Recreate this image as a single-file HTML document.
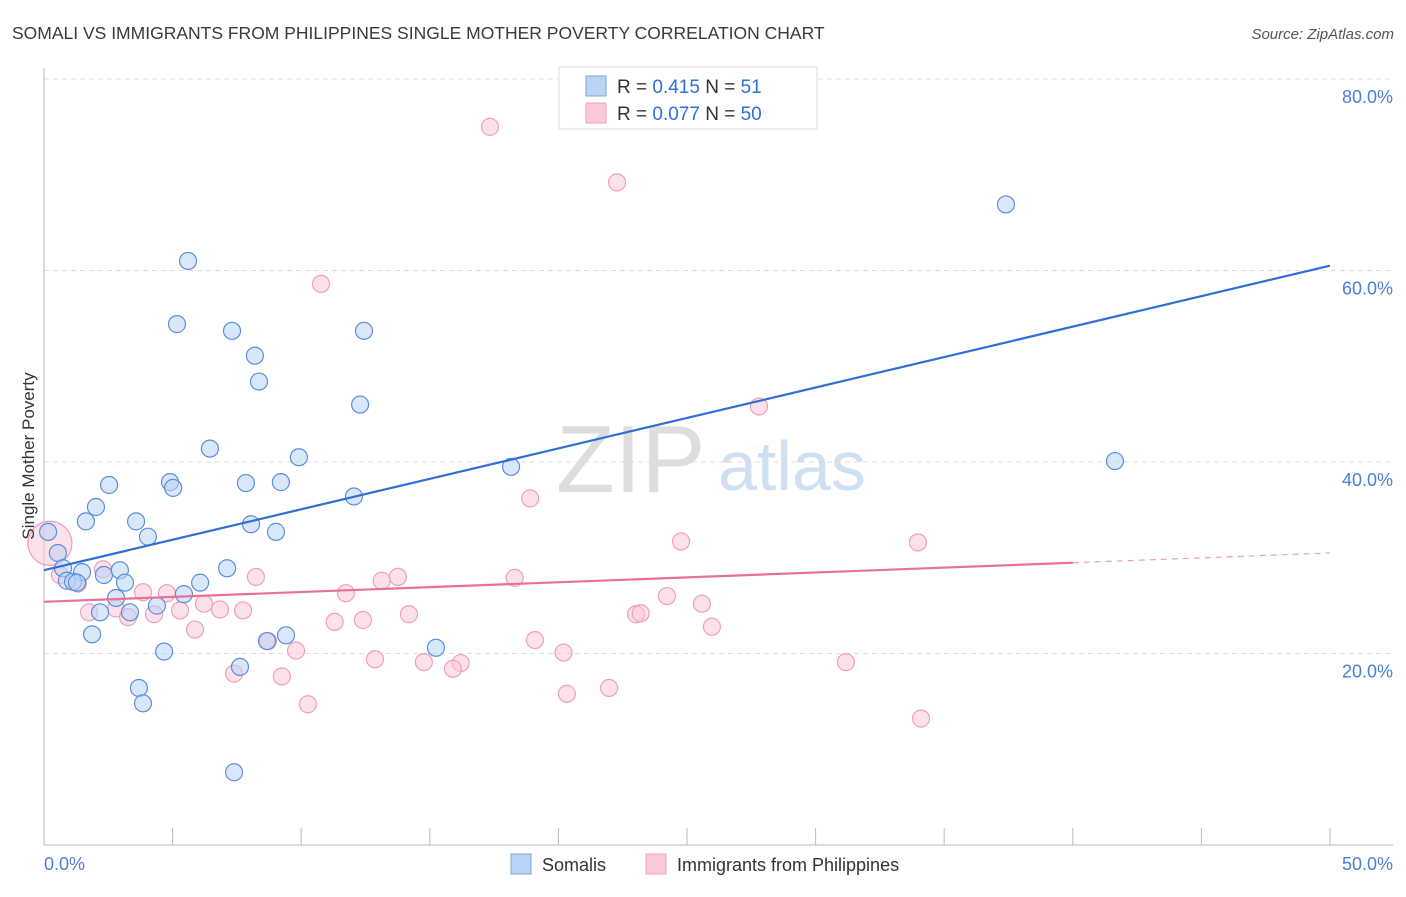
<!DOCTYPE html>
<html><head><meta charset="utf-8"><style>
body{margin:0;background:#fff;font-family:"Liberation Sans",sans-serif}
svg text{font-family:"Liberation Sans",sans-serif}
</style></head><body>
<svg width="1406" height="892" xmlns="http://www.w3.org/2000/svg">
<text x="12" y="39" font-size="17.5" fill="#3a3a3a">SOMALI VS IMMIGRANTS FROM PHILIPPINES SINGLE MOTHER POVERTY CORRELATION CHART</text>
<text x="1394" y="39" font-size="15" fill="#555" font-style="italic" text-anchor="end">Source: ZipAtlas.com</text>
<text x="556" y="492" font-size="96" fill="#ddd" font-family="Liberation Serif">ZIP</text>
<text x="718" y="490" font-size="70" fill="#cfe0f3">atlas</text>
<g id="grid"></g>
<g id="axes"></g>
<g id="pts"></g>
<g id="lines"></g>
<text transform="translate(34,456) rotate(-90)" font-size="17" fill="#333" text-anchor="middle">Single Mother Poverty</text>
<text x="44" y="870" font-size="18" fill="#4a7fd4">0.0%</text>
<text x="1393" y="870" font-size="18" fill="#4a7fd4" text-anchor="end">50.0%</text>
<g>
<rect x="559" y="67" width="258" height="62" fill="#fff" stroke="#ddd"/>
<rect x="586" y="76" width="20" height="20" fill="#b9d4f5" stroke="#7aa6e0"/>
<rect x="586" y="103" width="20" height="20" fill="#fbc9d9" stroke="#eea0ba"/>
<text x="617" y="93" font-size="19" fill="#333">R = <tspan fill="#2f6fd6">0.415</tspan>   N = <tspan fill="#2f6fd6"> 51</tspan></text>
<text x="617" y="120" font-size="19" fill="#333">R = <tspan fill="#2f6fd6">0.077</tspan>   N = <tspan fill="#2f6fd6">50</tspan></text>
</g>
<g>
<rect x="511" y="854" width="20" height="20" fill="#b9d4f5" stroke="#7aa6e0"/>
<text x="542" y="871" font-size="18" fill="#333">Somalis</text>
<rect x="646" y="854" width="20" height="20" fill="#fbc9d9" stroke="#eea0ba"/>
<text x="677" y="871" font-size="18" fill="#333">Immigrants from Philippines</text>
</g>
</svg>
<script>
const yTicks=[20,40,60,80];
const xTicks=[0,5,10,15,20,25,30,35,40,45,50];
const blueX=[5.6,5.17,7.31,12.44,8.2,8.36,12.29,6.45,9.91,18.16,37.4,41.64,2.53,4.9,5.02,7.85,9.21,12.05,2.02,1.63,3.58,8.05,9.02,4.04,0.16,0.54,0.74,1.48,2.33,2.95,0.89,1.13,1.28,3.15,6.07,7.12,2.8,5.44,4.39,2.18,3.34,1.87,8.67,9.41,4.67,15.24,7.62,3.69,3.85,7.39];
const blueY=[61.0,54.4,53.7,53.7,51.1,48.4,46.0,41.4,40.5,39.5,66.9,40.1,37.6,37.9,37.3,37.8,37.9,36.4,35.3,33.8,33.8,33.5,32.7,32.2,32.7,30.5,28.9,28.5,28.2,28.7,27.6,27.5,27.4,27.4,27.4,28.9,25.8,26.2,25.0,24.3,24.3,22.0,21.3,21.9,20.2,20.6,18.6,16.4,14.8,7.6];
const pinkX=[17.34,22.28,10.77,27.8,18.9,24.77,33.98,0.23,0.62,2.29,1.32,8.24,13.76,13.13,18.3,11.74,3.85,4.78,24.22,25.58,1.75,2.8,3.27,4.28,5.29,6.22,6.84,7.74,14.19,11.3,12.4,23.02,23.2,25.97,5.87,8.71,19.09,9.8,20.2,12.87,14.77,16.2,15.9,31.18,7.39,9.25,20.33,21.97,10.26,34.1];
const pinkY=[75.0,69.2,58.6,45.8,36.2,31.7,31.6,31.5,28.2,28.8,27.3,28.0,28.0,27.6,27.9,26.3,26.4,26.3,26.0,25.2,24.3,24.7,23.8,24.1,24.5,25.2,24.6,24.5,24.1,23.3,23.5,24.1,24.2,22.8,22.5,21.3,21.4,20.3,20.1,19.4,19.1,19.0,18.4,19.1,17.9,17.6,15.8,16.4,14.7,13.2];
const blueTrend=[28.7,60.5];
const pinkTrend=[25.4,30.5];
const NS="http://www.w3.org/2000/svg";
const sx=v=>44+v*25.72, sy=v=>845-v*9.575;
function mk(tag,attrs,parent){const e=document.createElementNS(NS,tag);for(const k in attrs)e.setAttribute(k,attrs[k]);document.getElementById(parent).appendChild(e);return e;}
yTicks.forEach(t=>{
 const l=mk('line',{x1:44,x2:1393,y1:sy(t),y2:sy(t),stroke:'#ddd','stroke-dasharray':'5,4'},'grid');
 
 
 const tx=mk('text',{x:1393,y:sy(t)+24,'font-size':18,fill:'#4a7fd4','text-anchor':'end'},'grid');
 tx.textContent=t.toFixed(1)+'%';
 
 
});
mk('line',{x1:44,x2:44,y1:68,y2:845,stroke:'#bbb'},'axes');
mk('line',{x1:44,x2:1393,y1:845,y2:845,stroke:'#bbb'},'axes');
xTicks.forEach(t=>{
 const l=mk('line',{x1:sx(t),x2:sx(t),y1:828,y2:845,stroke:'#bbb'},'axes');
 
 
});
function dots(X,Y,fill,stroke,name){X.forEach((x,i)=>{
 const c=mk('circle',{cx:sx(x),cy:sy(Y[i]),r:(name==='pink-point'&&i===7)?22:8.5,fill:fill,'fill-opacity':0.55,stroke:stroke,'stroke-width':1.2},'pts');
 
 
});}
dots(pinkX,pinkY,'#fbc9d9','#eea0ba','pink-point');
dots(blueX,blueY,'#b9d4f5','#5b8fdc','blue-point');
const bl=mk('line',{x1:sx(0),y1:sy(blueTrend[0]),x2:sx(50),y2:sy(blueTrend[1]),stroke:'#2f6fd6','stroke-width':2.2},'lines');


const py=x=>pinkTrend[0]+(pinkTrend[1]-pinkTrend[0])*x/50;
const pl=mk('line',{x1:sx(0),y1:sy(py(0)),x2:sx(40),y2:sy(py(40)),stroke:'#e8709a','stroke-width':2.2},'lines');


const pd=mk('line',{x1:sx(40),y1:sy(py(40)),x2:sx(50),y2:sy(py(50)),stroke:'#e8a0b8','stroke-width':1.2,'stroke-dasharray':'6,5'},'lines');


</script>
</body></html>
